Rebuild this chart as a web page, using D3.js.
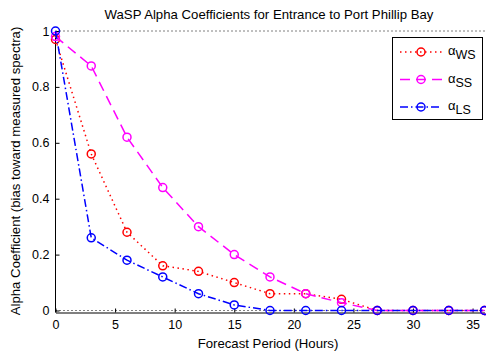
<!DOCTYPE html>
<html>
<head>
<meta charset="utf-8">
<script src="https://cdn.jsdelivr.net/npm/d3@7"></script>
<style>
  body { margin: 0; background: #fff; }
  text { font-family: "Liberation Sans", Arial, sans-serif; }
</style>
</head>
<body>
<div id="chart"></div>
<script>
// Data
const hours = [0, 3, 6, 9, 12, 15, 18, 21, 24, 27, 30, 33, 36];
const alphaWS = [0.97, 0.56, 0.28, 0.16, 0.14, 0.10, 0.06, 0.06, 0.04, 0, 0, 0, 0];
const alphaSS = [0.98, 0.875, 0.62, 0.44, 0.30, 0.20, 0.12, 0.06, 0.028, 0, 0, 0, 0];
const alphaLS = [1.0, 0.26, 0.18, 0.12, 0.06, 0.02, 0, 0, 0, 0, 0, 0, 0];
const xTicks = [0, 5, 10, 15, 20, 25, 30, 35];
const yTicks = [0, 0.2, 0.4, 0.6, 0.8, 1];
const refLines = [0, 1];

const series = [
  { name: "WS", values: alphaWS, color: "#ff0000", dash: "1.5,3.5" },
  { name: "SS", values: alphaSS, color: "#ff00ff", dash: "10,6" },
  { name: "LS", values: alphaLS, color: "#0000ff", dash: "8,3,1.5,3" }
];

const width = 486, height = 352;
const svg = d3.select("#chart").append("svg")
  .attr("width", width)
  .attr("height", height);

const x = d3.scaleLinear().domain([0, 36]).range([55.5, 484.5]);
const y = d3.scaleLinear().domain([0, 1]).range([310.5, 31]);
const axisY = 312.5;

// reference dotted lines at 0 and 1
svg.append("g").selectAll("line")
  .data(refLines)
  .join("line")
  .attr("x1", x(0)).attr("x2", x(36))
  .attr("y1", d => y(d)).attr("y2", d => y(d))
  .attr("stroke", "#000")
  .attr("stroke-width", 1)
  .attr("stroke-dasharray", "1,3");

// x axis
const xAxis = d3.axisBottom(x)
  .tickValues(xTicks)
  .tickSizeInner(-4)
  .tickSizeOuter(0)
  .tickPadding(8);
const gx = svg.append("g")
  .attr("transform", "translate(0," + axisY + ")")
  .call(xAxis);
gx.selectAll("text").attr("font-size", 12.5).attr("fill", "#000");
gx.select(".domain").attr("stroke", "#000");

// y axis
const yAxis = d3.axisLeft(y)
  .tickValues(yTicks)
  .tickFormat(d3.format("~g"))
  .tickSizeInner(-4)
  .tickSizeOuter(0)
  .tickPadding(6);
const gy = svg.append("g")
  .attr("transform", "translate(" + x(0) + ",0)")
  .call(yAxis);
gy.selectAll("text").attr("font-size", 12.5).attr("fill", "#000");
gy.select(".domain").attr("d", "M0," + y(1) + "V" + axisY).attr("stroke", "#000");

// series
const line = d3.line()
  .x((d, i) => x(hours[i]))
  .y(d => y(d));

series.forEach(s => {
  svg.append("path")
    .datum(s.values)
    .attr("d", line)
    .attr("fill", "none")
    .attr("stroke", s.color)
    .attr("stroke-width", 1.5)
    .attr("stroke-dasharray", s.dash);
  svg.append("g").selectAll("circle")
    .data(s.values)
    .join("circle")
    .attr("cx", (d, i) => x(hours[i]))
    .attr("cy", d => y(d))
    .attr("r", 4)
    .attr("fill", "none")
    .attr("stroke", s.color)
    .attr("stroke-width", 1.5);
});

// title and labels
svg.append("text")
  .attr("x", 269).attr("y", 19)
  .attr("text-anchor", "middle")
  .attr("font-size", 13.2)
  .text("WaSP Alpha Coefficients for Entrance to Port Phillip Bay");

svg.append("text")
  .attr("x", 268).attr("y", 348)
  .attr("text-anchor", "middle")
  .attr("font-size", 13.2)
  .text("Forecast Period (Hours)");

svg.append("text")
  .attr("transform", "translate(19.5,171) rotate(-90)")
  .attr("text-anchor", "middle")
  .attr("font-size", 13.2)
  .text("Alpha Coefficient (bias toward measured spectra)");

// legend
const legend = svg.append("g");
legend.append("rect")
  .attr("x", 392.5).attr("y", 37.5)
  .attr("width", 90).attr("height", 82)
  .attr("fill", "#fff")
  .attr("stroke", "#000")
  .attr("stroke-width", 1);

series.forEach((s, i) => {
  const ly = 52 + i * 27.5;
  legend.append("line")
    .attr("x1", 400).attr("x2", 442)
    .attr("y1", ly).attr("y2", ly)
    .attr("stroke", s.color)
    .attr("stroke-width", 1.5)
    .attr("stroke-dasharray", s.dash);
  legend.append("circle")
    .attr("cx", 421).attr("cy", ly)
    .attr("r", 4)
    .attr("fill", "none")
    .attr("stroke", s.color)
    .attr("stroke-width", 1.5);
  const t = legend.append("text")
    .attr("x", 448).attr("y", ly + 3)
    .attr("font-size", 13);
  t.append("tspan").text("\u03b1");
  t.append("tspan")
    .attr("dy", 4)
    .attr("font-size", 12.5)
    .text(s.name);
});
</script>
</body>
</html>
